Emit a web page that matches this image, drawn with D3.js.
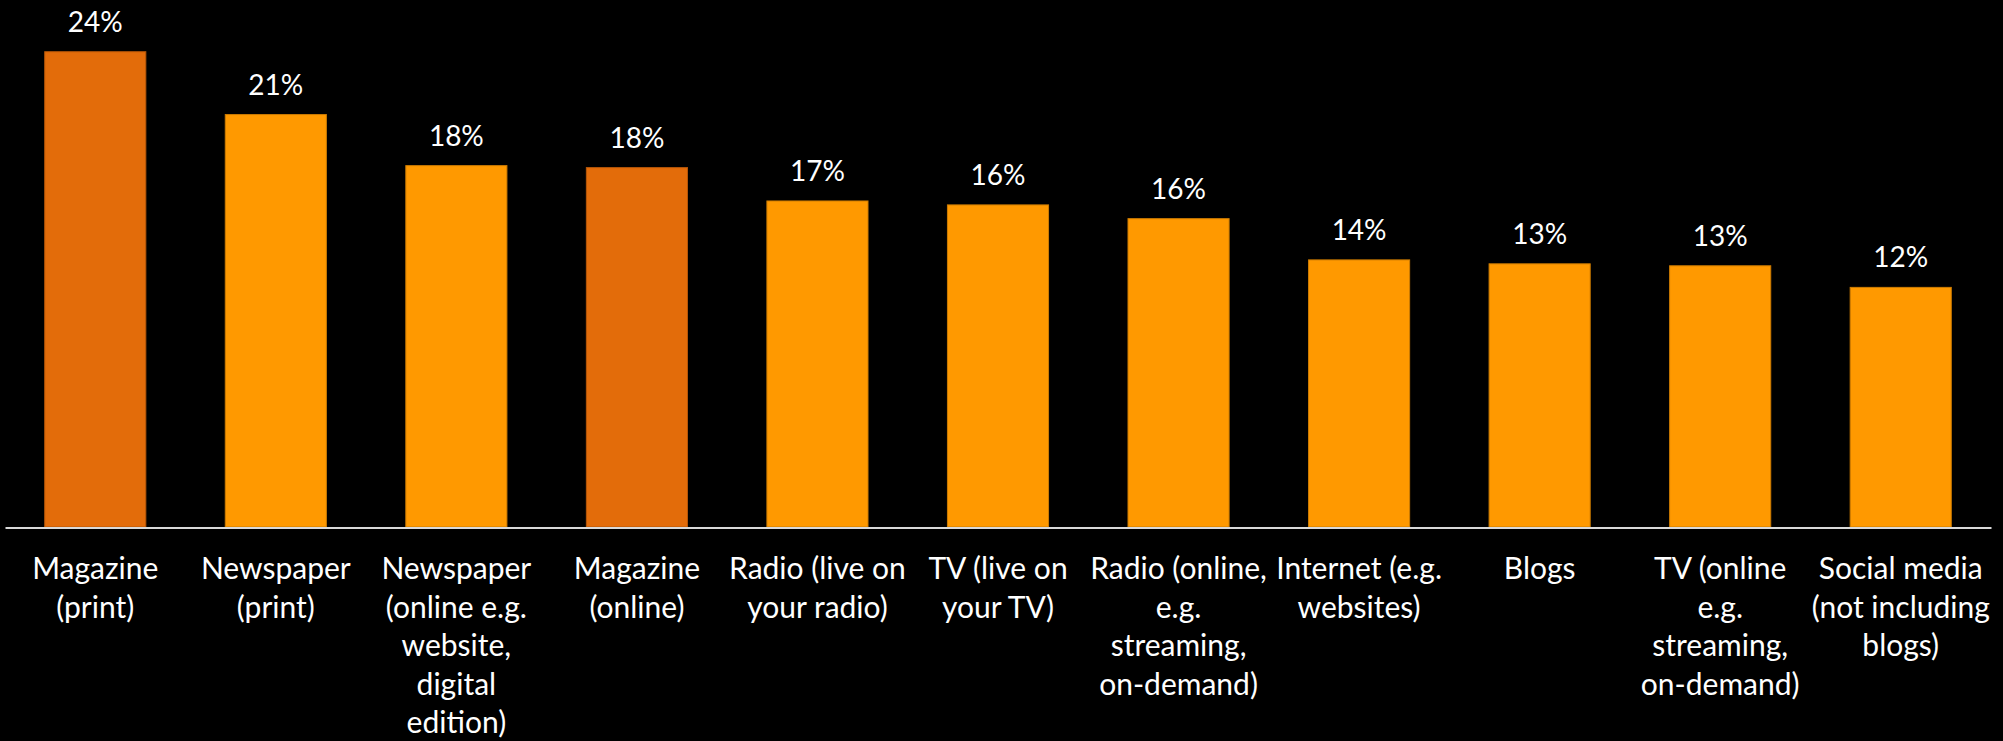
<!DOCTYPE html>
<html>
<head>
<meta charset="utf-8">
<script src="https://cdnjs.cloudflare.com/ajax/libs/d3/7.8.5/d3.min.js"></script>
<style>
html, body { margin: 0; padding: 0; background: #000; }
svg { display: block; }
.value { font-family: Lato, sans-serif; font-size: 28px; fill: #fff; text-anchor: middle; }
.cat text { font-family: Lato, sans-serif; font-size: 30px; fill: #fff; }
</style>
</head>
<body>
<svg id="chart" width="2003" height="741"></svg>
<script>
// categories, line breaks as in the original labels
var categories = [
    "Magazine\n(print)",
    "Newspaper\n(print)",
    "Newspaper\n(online e.g.\nwebsite,\ndigital\nedition)",
    "Magazine\n(online)",
    "Radio (live on\nyour radio)",
    "TV (live on\nyour TV)",
    "Radio (online,\ne.g.\nstreaming,\non-demand)",
    "Internet (e.g.\nwebsites)",
    "Blogs",
    "TV (online\ne.g.\nstreaming,\non-demand)",
    "Social media\n(not including\nblogs)"
];
var values = [24.2, 21.0, 18.4, 18.3, 16.6, 16.4, 15.7, 13.6, 13.4, 13.3, 12.2];
var highlighted = [0, 3];

var colorMain = "#ff9900",
    colorHigh = "#e36c0a";

function drawChart() {
    var svg = d3.select("#chart"),
        width = +svg.attr("width"),
        margin = {top: 36, left: 5, right: 12},
        baseline = 527,
        lineHeight = 38.5;

    var x = d3.scaleBand()
        .domain(d3.range(categories.length))
        .range([margin.left, width - margin.right])
        .paddingInner(0.44)
        .paddingOuter(0.22);

    var y = d3.scaleLinear()
        .domain([0, 25])
        .range([baseline, margin.top]);

    svg.append("rect").attr("width", width).attr("height", 741).attr("fill", "#000");

    svg.selectAll("rect.bar")
        .data(values)
        .enter()
        .append("rect")
        .attr("class", "bar")
        .attr("x", function(d, i) { return x(i); })
        .attr("y", function(d) { return y(d); })
        .attr("width", x.bandwidth())
        .attr("height", function(d) { return y(0) - y(d); })
        .attr("fill", function(d, i) { return highlighted.indexOf(i) > -1 ? colorHigh : colorMain; })
        .attr("stroke", function(d, i) {
            var c = highlighted.indexOf(i) > -1 ? colorHigh : colorMain;
            return d3.color(c).darker(0.6);
        })
        .attr("stroke-width", 1);

    svg.selectAll("text.value")
        .data(values)
        .enter()
        .append("text")
        .attr("class", "value")
        .attr("x", function(d, i) { return x(i) + x.bandwidth() / 2; })
        .attr("y", function(d) { return y(d) - 20; })
        .text(function(d) { return Math.round(d) + "%"; });

    var axis = svg.append("g")
        .attr("class", "cat")
        .attr("transform", "translate(0," + (baseline + 0.5) + ")")
        .call(d3.axisBottom(x).tickSize(0).tickSizeOuter(0).tickFormat(""));

    axis.select(".domain").attr("stroke", "#d9d9d9").attr("stroke-width", 2);

    axis.selectAll(".tick text")
        .attr("dy", null)
        .attr("y", 0)
        .attr("text-anchor", "middle")
        .each(function(i) {
            var lines = categories[i].split("\n"),
                el = d3.select(this);
            lines.forEach(function(line, k) {
                el.append("tspan")
                    .attr("x", 0)
                    .attr("y", 51.5 + k * lineHeight)
                    .text(line);
            });
        });
}

drawChart();
</script>
</body>
</html>
